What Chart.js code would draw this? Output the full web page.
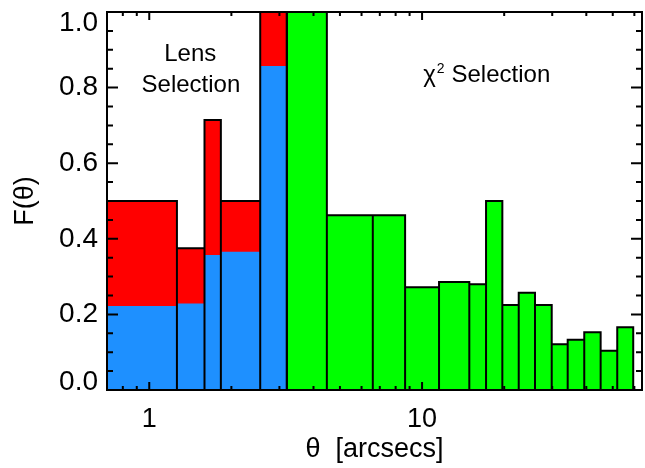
<!DOCTYPE html>
<html><head><meta charset="utf-8">
<script src="https://cdn.jsdelivr.net/npm/chart.js@4"></script>
<style>html,body{margin:0;padding:0;background:#fff}#wrap{width:645px;height:468px;position:relative}</style>
</head><body><div id="wrap"><canvas id="c"></canvas></div>
<script>
// ---- data ----
const binEdges = [0.7, 1.263, 1.594, 1.83, 2.551, 3.194, 4.477, 6.598, 8.666, 11.54, 14.9, 17.16, 19.69, 22.61, 25.94, 29.87, 34.18, 39.31, 45.14, 51.93, 59.43];
const lensTotal = [0.5, 0.375, 0.714, 0.5, 1.0];
const lensBlue = [0.222, 0.229, 0.357, 0.366, 0.857];
const chiValues = [1.0, 0.462, 0.462, 0.272, 0.286, 0.280, 0.5, 0.225, 0.257, 0.225, 0.121, 0.133, 0.153, 0.104, 0.166];
const xTickLabels = [1, 10];
const yTickLabels = [0, 0.2, 0.4, 0.6, 0.8, 1.0];
const xTitle = 'θ  [arcsecs]';
const yTitle = 'F(θ)';
const lensText = ['Lens', 'Selection'];
const chiText = ['χ', '2', 'Selection'];

const lensEdges = binEdges.slice(0, lensTotal.length + 1);
const chiEdges = binEdges.slice(lensTotal.length);

function stepPath(edges, values) {
  const pts = [];
  for (let i = 0; i < values.length; i++) {
    pts.push({x: edges[i], y: 0}, {x: edges[i], y: values[i]},
             {x: edges[i + 1], y: values[i]}, {x: edges[i + 1], y: 0});
  }
  return pts;
}

const FONT = "'Liberation Sans', Arial, Helvetica, sans-serif";

const framePlugin = {
  id: 'idlFrame',
  beforeDraw(chart) {
    try {
      const ys = chart.scales.y;
      const items = ys.getLabelItems(chart.chartArea);
      items.forEach(it => {
        if (it._adj) return;
        const t = it.options.translation;
        if (it.label === '1.0') t[1] += 11;
        if (it.label === '0.0') t[1] -= 8;
        it._adj = true;
      });
    } catch (e) {}
  },
  afterDatasetsDraw(chart) {
    const {ctx, chartArea: a, scales: {x, y}} = chart;
    ctx.save();
    ctx.strokeStyle = '#000';
    ctx.lineWidth = 2;
    ctx.beginPath();
    [0.1, 1, 10].forEach(d => {
      for (let m = 1; m <= 9; m++) {
        const v = m * d;
        if (v <= x.min || v >= x.max) continue;
        const px = x.getPixelForValue(v);
        const len = m === 1 ? 8 : 4;
        ctx.moveTo(px, a.bottom); ctx.lineTo(px, a.bottom - len);
        ctx.moveTo(px, a.top); ctx.lineTo(px, a.top + len);
      }
    });
    for (let k = 1; k < 20; k++) {
      const py = y.getPixelForValue(k * 0.05);
      const len = k % 4 === 0 ? 11 : 6;
      ctx.moveTo(a.left, py); ctx.lineTo(a.left + len, py);
      ctx.moveTo(a.right, py); ctx.lineTo(a.right - len, py);
    }
    ctx.stroke();
    ctx.strokeRect(a.left, a.top, a.right - a.left, a.bottom - a.top);

    // annotations, positioned in data coordinates
    ctx.fillStyle = '#000';
    ctx.textBaseline = 'alphabetic';
    ctx.font = '24px ' + FONT;
    ctx.textAlign = 'center';
    ctx.fillText(lensText[0], x.getPixelForValue(1.413), y.getPixelForValue(0.870));
    ctx.fillText(lensText[1], x.getPixelForValue(1.421), y.getPixelForValue(0.788));
    ctx.textAlign = 'left';
    let cx = x.getPixelForValue(10.09);
    const cy = y.getPixelForValue(0.815);
    ctx.fillText(chiText[0], cx, cy);
    cx += ctx.measureText(chiText[0]).width + 1;
    ctx.font = '14px ' + FONT;
    ctx.fillText(chiText[1], cx, cy - 9);
    cx += ctx.measureText(chiText[1]).width + 7;
    ctx.font = '24px ' + FONT;
    ctx.fillText(chiText[2], cx, cy);
    ctx.restore();
  }
};

new Chart(document.getElementById('c'), {
  type: 'line',
  data: {
    datasets: [
      {label: 'Lens (blue)', data: stepPath(lensEdges, lensBlue), backgroundColor: '#1E90FF',
       borderColor: 'rgba(0,0,0,0)', borderWidth: 0, fill: 'origin', pointRadius: 0, tension: 0},
      {label: 'Lens Selection', data: stepPath(lensEdges, lensTotal), backgroundColor: '#FF0000',
       borderColor: '#000', borderWidth: 2, fill: 'origin', pointRadius: 0, tension: 0},
      {label: 'χ² Selection', data: stepPath(chiEdges, chiValues), backgroundColor: '#00FF00',
       borderColor: '#000', borderWidth: 2, fill: 'origin', pointRadius: 0, tension: 0}
    ]
  },
  options: {
    responsive: true,
    maintainAspectRatio: false,
    animation: false,
    events: [],
    layout: {padding: {left: 0, right: 3, top: 12, bottom: 0}},
    plugins: {
      legend: {display: false},
      tooltip: {enabled: false},
      filler: {drawTime: 'beforeDatasetsDraw'}
    },
    scales: {
      x: {
        type: 'logarithmic', min: 0.7, max: 64, bounds: 'data',
        afterBuildTicks: s => { s.ticks = xTickLabels.map(v => ({value: v})); },
        ticks: {callback: v => String(v), font: {family: FONT, size: 27}, color: '#000',
                padding: 13, maxRotation: 0, autoSkip: false},
        grid: {display: false, drawTicks: false},
        border: {display: false},
        title: {display: true, text: xTitle, font: {family: FONT, size: 27}, color: '#000',
                padding: {top: 0, bottom: 2}},
        afterFit: s => { s.height = 78; s.paddingLeft = 0; s.paddingRight = 0; }
      },
      y: {
        type: 'linear', min: 0, max: 1,
        afterBuildTicks: s => { s.ticks = yTickLabels.map(v => ({value: v})); },
        ticks: {callback: v => Number(v).toFixed(1), font: {family: FONT, size: 28}, color: '#000', padding: 9},
        grid: {display: false, drawTicks: false},
        border: {display: false},
        title: {display: true, text: yTitle, font: {family: FONT, size: 27}, color: '#000',
                padding: {top: 9, bottom: 0}},
        afterFit: s => { s.width = 107; s.paddingTop = 0; s.paddingBottom = 0; }
      }
    }
  },
  plugins: [framePlugin]
});
</script>
</body></html>
